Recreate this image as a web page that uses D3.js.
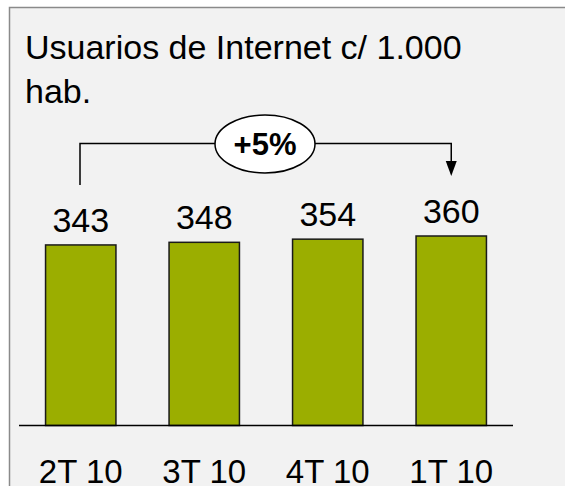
<!DOCTYPE html>
<html>
<head>
<meta charset="utf-8">
<script src="https://cdn.jsdelivr.net/npm/d3@7"></script>
<style>
  html, body { margin: 0; padding: 0; background: #ffffff; }
  svg { display: block; }
</style>
</head>
<body>
<svg id="chart" width="565" height="486"></svg>
<script>
const categories = ["2T 10", "3T 10", "4T 10", "1T 10"];
const values = [343, 348, 354, 360];
const titleLines = ["Usuarios de Internet c/ 1.000", "hab."];
const growthLabel = "+5%";

const svg = d3.select("#chart");
const font = "'Liberation Sans', Arial, sans-serif";

// panel
svg.append("rect")
  .attr("x", 9.5).attr("y", 7.5)
  .attr("width", 600).attr("height", 600)
  .attr("fill", "#f2f2f2")
  .attr("stroke", "#8a8a8a").attr("stroke-width", 1.5);

// title
svg.append("g").selectAll("text").data(titleLines).join("text")
  .attr("x", 25).attr("y", (d, i) => 59 + i * 44)
  .attr("font-family", font).attr("font-size", 34)
  .attr("fill", "#000").text(d => d);

const baseY = 425.5;
const x = d3.scaleBand().domain(categories).range([19, 513]).paddingInner(0.43).paddingOuter(0.215);
const y = d3.scaleLinear().domain([0, 360]).range([baseY, 236]);

// bars
svg.append("g").selectAll("rect").data(values).join("rect")
  .attr("x", (d, i) => x(categories[i]))
  .attr("y", d => y(d))
  .attr("width", x.bandwidth())
  .attr("height", d => baseY - y(d))
  .attr("fill", "#9bae00")
  .attr("stroke", "#1a1a1a").attr("stroke-width", 1.5);

// baseline
svg.append("line")
  .attr("x1", 19).attr("x2", 513).attr("y1", baseY).attr("y2", baseY)
  .attr("stroke", "#000").attr("stroke-width", 1.5);

// value labels
svg.append("g").selectAll("text").data(values).join("text")
  .attr("x", (d, i) => x(categories[i]) + x.bandwidth() / 2)
  .attr("y", d => y(d) - 13)
  .attr("text-anchor", "middle")
  .attr("font-family", font).attr("font-size", 34)
  .text(d => d);

// category labels
const xAxis = d3.axisBottom(x).tickSize(0).tickPadding(0);
const ax = svg.append("g").attr("transform", `translate(0,${baseY})`).call(xAxis);
ax.select(".domain").remove();
ax.selectAll("text")
  .attr("y", 57).attr("dy", null)
  .attr("font-family", font).attr("font-size", 33).attr("fill", "#000");

// growth bracket
const x0 = x(categories[0]) + x.bandwidth() / 2 + 45 - x.bandwidth() / 2 - 10;
const cx0 = 80;
const cx1 = x(categories[3]) + x.bandwidth() / 2;
const brY = 143.5;
svg.append("path")
  .attr("d", `M${cx0},185 V${brY} H${cx1} V162`)
  .attr("fill", "none").attr("stroke", "#000").attr("stroke-width", 1.5);
svg.append("path")
  .attr("d", `M${cx1 - 5.5},161 L${cx1 + 5.5},161 L${cx1},176 Z`)
  .attr("fill", "#000");

svg.append("ellipse")
  .attr("cx", 265).attr("cy", 144).attr("rx", 50).attr("ry", 29)
  .attr("fill", "#fff").attr("stroke", "#000").attr("stroke-width", 1.5);
svg.append("text")
  .attr("x", 265).attr("y", 155)
  .attr("text-anchor", "middle")
  .attr("font-family", font).attr("font-size", 31).attr("font-weight", "bold")
  .text(growthLabel);
</script>
</body>
</html>
